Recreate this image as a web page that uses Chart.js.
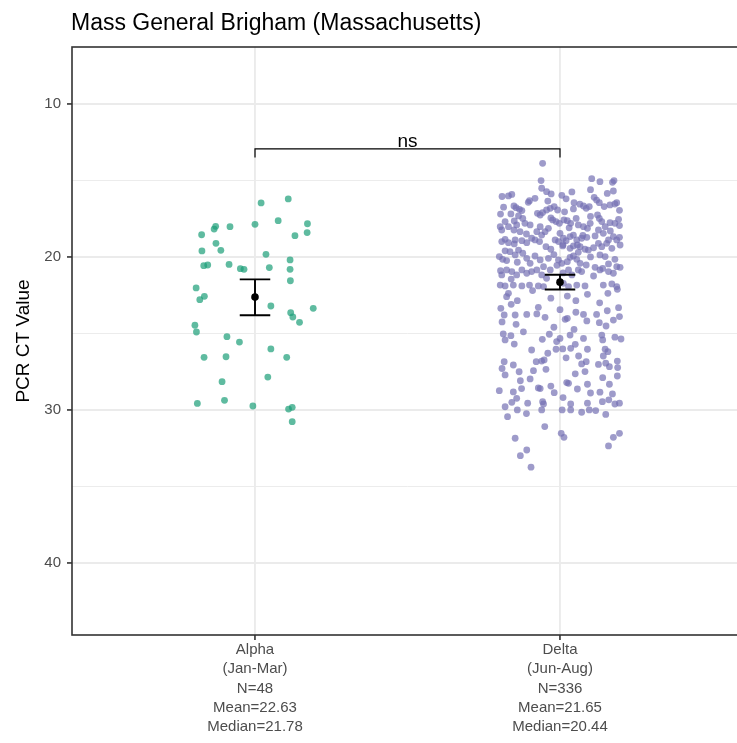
<!DOCTYPE html>
<html>
<head>
<meta charset="utf-8">
<script src="https://cdn.jsdelivr.net/npm/chart.js@4.4.1/dist/chart.umd.min.js"></script>
<style>
  html, body { margin: 0; padding: 0; background: #ffffff; overflow: hidden; }
  #wrap { position: absolute; left: 0; top: 0; width: 750px; height: 743px; }
</style>
</head>
<body>
<div id="wrap"><canvas id="myChart" width="750" height="743"></canvas></div>
<script>
// categories and axis text
const groups = ["Alpha", "Delta"];
const groupLabels = [
  ["Alpha", "(Jan-Mar)", "N=48", "Mean=22.63", "Median=21.78"],
  ["Delta", "(Jun-Aug)", "N=336", "Mean=21.65", "Median=20.44"],
];
const yMajor = [10, 20, 30, 40];
const yMinor = [15, 25, 35];
const chartTitle = "Mass General Brigham (Massachusetts)";
const yTitle = "PCR CT Value";

// summary per group (mean and 95% CI)
const groupMeans = [22.63, 21.65];
const ciLow = [21.47, 21.17];
const ciHigh = [23.82, 22.13];

// significance bracket
const signifLabel = "ns";
const signifLine = 12.93;
const signifTip = 13.5;

// [ct value, jitter]
const alphaPoints = [
  [16.21, 0.109], [16.47, 0.020], [17.87, 0.000], [17.63, 0.076], [17.83, 0.172],
  [18.41, 0.171], [18.61, 0.131], [18.00, -0.129], [18.18, -0.134], [18.02, -0.082],
  [18.55, -0.175], [19.11, -0.128], [19.57, -0.112], [19.61, -0.174], [19.83, 0.036],
  [20.20, 0.115], [20.81, 0.115], [20.57, -0.168], [20.53, -0.155], [20.49, -0.085],
  [20.77, -0.048], [20.81, -0.036], [20.70, 0.047], [21.56, 0.116], [22.03, -0.193],
  [22.58, -0.166], [22.80, -0.181], [23.21, 0.052], [23.36, 0.191], [23.65, 0.117],
  [23.93, 0.124], [24.28, 0.146], [24.47, -0.197], [24.91, -0.192], [25.22, -0.092],
  [25.57, -0.051], [26.02, 0.052], [26.57, 0.104], [26.57, -0.167], [26.53, -0.095],
  [28.16, -0.108], [27.86, 0.042], [29.58, -0.189], [29.38, -0.100], [29.75, -0.007],
  [29.95, 0.110], [29.84, 0.122], [30.78, 0.122],
];

const deltaPoints = [
  [13.88, -0.057], [15.01, -0.062], [14.88, 0.104], [15.08, 0.131], [15.01, 0.177],
  [15.12, 0.172], [15.51, -0.060], [15.73, -0.044], [15.88, -0.029], [15.97, 0.006],
  [15.75, 0.039], [15.69, 0.175], [16.01, -0.169], [15.91, -0.158], [16.32, -0.100],
  [16.17, -0.082], [16.43, -0.104], [16.67, -0.151], [16.78, -0.144], [16.89, -0.133],
  [16.97, -0.125], [17.15, -0.074], [17.26, -0.065], [17.10, -0.057], [16.93, -0.044],
  [16.82, -0.032], [16.71, -0.019], [16.93, -0.008], [16.45, 0.046], [16.86, 0.044],
  [16.67, 0.077], [16.82, 0.086], [16.71, 0.096], [16.10, 0.112], [16.28, 0.120],
  [16.45, 0.129], [16.71, 0.145], [16.60, 0.164], [16.54, 0.180], [16.45, 0.186],
  [17.19, -0.161], [17.32, -0.136], [17.48, -0.122], [17.80, -0.115], [17.91, -0.098],
  [17.58, -0.024], [17.69, -0.013], [17.80, -0.002], [17.58, 0.013], [17.63, 0.024],
  [17.80, 0.035], [17.48, 0.053], [17.91, 0.060], [18.02, 0.077], [18.13, 0.090],
  [17.80, 0.099], [17.26, 0.123], [17.48, 0.129], [17.69, 0.137], [18.02, 0.148],
  [17.76, 0.164], [17.80, 0.180], [17.54, 0.192], [18.02, -0.196], [18.24, -0.191],
  [17.69, -0.180], [18.02, -0.169], [18.24, -0.151], [17.91, -0.142], [18.35, -0.131],
  [18.35, -0.076], [18.02, -0.065], [18.57, -0.060], [18.35, -0.049], [18.13, -0.038],
  [18.46, 0.000], [18.78, 0.011], [18.94, 0.020], [18.67, 0.033], [18.57, 0.044],
  [18.89, 0.055], [18.78, 0.071], [18.72, 0.088], [18.63, 0.115], [18.24, 0.126],
  [18.46, 0.142], [18.89, 0.159], [18.67, 0.175], [18.89, 0.186], [18.72, 0.195],
  [19.00, -0.191], [18.85, -0.180], [19.07, -0.169], [18.89, -0.147], [18.94, -0.125],
  [19.07, -0.109], [18.78, -0.093], [18.89, -0.082], [19.00, -0.067], [19.33, -0.046],
  [19.50, -0.030], [18.89, -0.016], [19.00, -0.005], [19.28, 0.009], [19.44, 0.033],
  [19.28, 0.044], [19.22, 0.057], [19.33, 0.066], [19.50, 0.082], [19.55, 0.093],
  [19.11, 0.126], [19.33, 0.137], [19.11, 0.153], [19.44, 0.170], [19.22, 0.197],
  [19.98, -0.199], [20.16, -0.188], [20.24, -0.175], [19.66, -0.164], [19.87, -0.147],
  [19.55, -0.136], [19.76, -0.122], [20.09, -0.109], [20.42, -0.098], [19.94, -0.082],
  [20.20, -0.065], [20.64, -0.054], [20.09, -0.038], [20.20, -0.005], [20.42, 0.006],
  [20.31, 0.024], [20.03, 0.033], [19.94, 0.044], [20.16, 0.055], [20.42, 0.066],
  [20.53, 0.086], [20.68, 0.115], [19.87, 0.131], [19.98, 0.148], [20.46, 0.159],
  [20.16, 0.180], [20.64, 0.186], [20.68, 0.197], [21.18, -0.191], [20.85, -0.175],
  [20.96, -0.158], [21.18, -0.142], [20.85, -0.125], [21.07, -0.109], [20.96, -0.093],
  [20.85, -0.076], [21.18, -0.060], [21.40, -0.044], [20.85, -0.032], [20.85, 0.028],
  [21.18, 0.039], [20.85, 0.060], [20.96, 0.071], [20.85, 0.131], [20.96, 0.159],
  [21.07, 0.175], [21.84, -0.196], [21.90, -0.180], [21.84, -0.153], [21.90, -0.125],
  [21.84, -0.100], [21.90, -0.071], [21.94, -0.054], [21.73, 0.011], [21.94, 0.028],
  [21.84, 0.055], [21.90, 0.082], [21.84, 0.142], [21.77, 0.170], [21.94, 0.186],
  [22.38, -0.169], [22.60, -0.175], [22.86, -0.140], [23.36, -0.194], [23.80, -0.183],
  [23.80, -0.147], [24.41, -0.144], [23.76, -0.109], [23.73, -0.076], [23.30, -0.071],
  [23.95, -0.049], [22.56, 0.024], [22.86, 0.052], [24.08, 0.017], [24.02, 0.024],
  [23.62, 0.052], [23.76, 0.077], [24.19, 0.088], [23.76, 0.120], [24.30, 0.129],
  [24.52, 0.151], [23.52, 0.155], [24.13, 0.175], [22.38, 0.157], [22.12, 0.188],
  [23.32, 0.192], [25.04, -0.186], [25.43, -0.180], [25.15, -0.161], [26.09, -0.093],
  [25.39, -0.058], [25.06, -0.035], [25.54, -0.011], [25.33, 0.000], [26.04, -0.013],
  [26.02, 0.009], [25.11, 0.033], [24.74, 0.046], [25.98, 0.035], [25.72, 0.050],
  [25.33, 0.077], [26.04, 0.090], [26.48, 0.061], [26.85, 0.086], [27.00, 0.071],
  [25.11, 0.137], [25.43, 0.140], [26.04, 0.148], [26.20, 0.157], [26.48, 0.142],
  [27.03, 0.126], [27.18, 0.162], [26.81, 0.188], [27.24, 0.189], [25.37, 0.200],
  [26.85, -0.183], [27.07, -0.153], [27.51, -0.134], [26.85, -0.078], [26.81, -0.060],
  [26.74, -0.052], [27.35, -0.046], [27.44, -0.087], [27.72, -0.180], [27.98, -0.098],
  [27.50, 0.082], [28.33, 0.090], [28.33, 0.162], [27.79, 0.188], [28.22, 0.022],
  [28.27, 0.028], [28.64, 0.057], [28.85, 0.131], [28.96, 0.172], [28.75, -0.199],
  [28.83, -0.153], [28.61, -0.126], [28.57, -0.071], [28.61, -0.065], [28.88, -0.019],
  [29.51, -0.158], [29.25, -0.142], [29.57, -0.106], [29.47, -0.057], [29.62, -0.054],
  [29.62, 0.035], [29.57, 0.090], [29.47, 0.139], [29.62, 0.180], [29.57, 0.195],
  [30.01, -0.140], [30.01, -0.060], [30.01, 0.007], [30.01, 0.035], [30.16, 0.071],
  [30.01, 0.096], [30.05, 0.117], [30.45, -0.172], [31.54, 0.004], [31.80, 0.013],
  [31.80, 0.175], [31.54, 0.195], [31.86, -0.147], [32.36, 0.159], [32.63, -0.109],
  [33.00, -0.130], [33.75, -0.095],
  // points hidden in the dense cloud, estimated
  [15.60, 0.100], [15.85, 0.155], [16.05, -0.190], [16.20, 0.020], [16.35, -0.040],
  [16.55, 0.065], [16.75, -0.185], [16.95, 0.195], [17.05, 0.015], [17.20, -0.195],
  [17.35, 0.100], [17.45, -0.030], [17.65, -0.150], [17.95, 0.195], [18.10, 0.030],
  [18.30, 0.165], [18.50, -0.110], [18.60, 0.075], [19.15, -0.150], [19.20, 0.010],
  [19.40, 0.110], [19.60, -0.180], [19.70, 0.060], [19.85, -0.020], [20.00, 0.100],
  [20.35, -0.140], [20.55, -0.010], [20.75, 0.140], [20.90, -0.195], [21.05, 0.010],
  [21.25, 0.110], [21.45, -0.160], [22.20, -0.090], [22.45, 0.090], [22.70, -0.030],
  [23.00, 0.130], [23.10, -0.160], [23.45, 0.000], [23.90, 0.195], [24.25, -0.190],
  [24.60, -0.020], [24.90, -0.120], [25.25, 0.180], [25.70, -0.150], [26.30, -0.040],
  [26.60, 0.020], [26.95, 0.150], [27.30, -0.190], [27.65, 0.050], [27.90, 0.140],
  [28.10, -0.130], [28.45, -0.030], [28.90, 0.100], [29.20, 0.010], [29.35, 0.160],
  [29.80, -0.180], [30.25, -0.110], [30.30, 0.150], [31.10, -0.050],
];

const FONT = "'Liberation Sans', Arial, Helvetica, sans-serif";
const GRID = "#EBEBEB";
const DARK = "#333333";
const TEXT = "#4D4D4D";

function toXY(points, group) {
  return points.map(p => ({ x: group + p[1], y: p[0] }));
}

// error bars, bracket, panel border and title
const extras = {
  id: "extras",
  afterDatasetsDraw(chart) {
    const { ctx, chartArea: a, scales: { x, y } } = chart;
    ctx.save();
    ctx.strokeStyle = "#000000";
    ctx.lineWidth = 1.9;
    groups.forEach((g, i) => {
      const cx = x.getPixelForValue(i + 1);
      const half = x.getPixelForValue(i + 1.05) - cx;
      const yl = y.getPixelForValue(ciLow[i]);
      const yh = y.getPixelForValue(ciHigh[i]);
      ctx.beginPath();
      ctx.moveTo(cx, yl); ctx.lineTo(cx, yh);
      ctx.moveTo(cx - half, yl); ctx.lineTo(cx + half, yl);
      ctx.moveTo(cx - half, yh); ctx.lineTo(cx + half, yh);
      ctx.stroke();
    });

    // significance bracket
    const x1 = x.getPixelForValue(1);
    const x2 = x.getPixelForValue(2);
    const yb = y.getPixelForValue(signifLine);
    const yt = y.getPixelForValue(signifTip);
    ctx.lineWidth = 1.2;
    ctx.beginPath();
    ctx.moveTo(x1, yt); ctx.lineTo(x1, yb); ctx.lineTo(x2, yb); ctx.lineTo(x2, yt);
    ctx.stroke();
    ctx.fillStyle = "#000000";
    ctx.font = "19px " + FONT;
    ctx.textAlign = "center";
    ctx.textBaseline = "alphabetic";
    ctx.fillText(signifLabel, (x1 + x2) / 2, yb - 1.5);

    // panel border
    ctx.strokeStyle = DARK;
    ctx.lineWidth = 1.6;
    ctx.strokeRect(a.left, a.top, a.right - a.left, a.bottom - a.top);

    // title
    ctx.font = "23px " + FONT;
    ctx.textAlign = "left";
    ctx.fillText(chartTitle, a.left - 1, 30);
    ctx.restore();
  },
};

var ctx = document.getElementById("myChart");
var myChart = new Chart(ctx, {
  type: "scatter",
  data: {
    datasets: [
      {
        label: "mean",
        data: groupMeans.map((m, i) => ({ x: i + 1, y: m })),
        backgroundColor: "#000000",
        borderWidth: 0,
        pointRadius: 3.8,
        order: 0,
      },
      {
        label: groups[0],
        data: toXY(alphaPoints, 1),
        backgroundColor: "rgba(27, 158, 119, 0.7)",
        borderWidth: 0,
        pointRadius: 3.4,
        order: 1,
      },
      {
        label: groups[1],
        data: toXY(deltaPoints, 2),
        backgroundColor: "rgba(117, 112, 179, 0.7)",
        borderWidth: 0,
        pointRadius: 3.4,
        order: 1,
      },
    ],
  },
  options: {
    responsive: false,
    animation: false,
    devicePixelRatio: 1,
    layout: { padding: { top: 47, right: 7, bottom: 0, left: 0 } },
    plugins: {
      legend: { display: false },
      title: { display: false },
      tooltip: { enabled: false },
    },
    scales: {
      x: {
        type: "linear",
        min: 0.4,
        max: 2.6,
        afterBuildTicks: (s) => { s.ticks = [1, 2].map(v => ({ value: v })); },
        afterFit: (s) => { s.height = 108; },
        ticks: {
          callback: (v) => groupLabels[v - 1],
          color: TEXT,
          font: { family: FONT, size: 15, lineHeight: 1.29 },
          padding: 0,
          maxRotation: 0,
          autoSkip: false,
        },
        grid: { color: GRID, lineWidth: 1.9, tickLength: 5, tickColor: DARK, tickWidth: 1.6 },
        border: { display: false },
      },
      y: {
        type: "linear",
        reverse: true,
        min: 6.27,
        max: 44.73,
        afterBuildTicks: (s) => {
          s.ticks = yMajor.concat(yMinor).sort((a, b) => a - b).map(v => ({ value: v }));
        },
        afterFit: (s) => { s.width = 72; },
        ticks: {
          callback: (v) => (yMajor.includes(v) ? String(v) : ""),
          color: TEXT,
          font: { family: FONT, size: 15 },
          padding: 6,
        },
        grid: {
          color: GRID,
          lineWidth: (c) => (yMajor.includes(c.tick.value) ? 1.9 : 0.95),
          tickLength: 5,
          tickColor: (c) => (yMajor.includes(c.tick.value) ? DARK : "rgba(0,0,0,0)"),
          tickWidth: 1.6,
        },
        border: { display: false },
        title: {
          display: true,
          text: yTitle,
          color: "#000000",
          font: { family: FONT, size: 19 },
          padding: { top: 12, bottom: 0 },
        },
      },
    },
  },
  plugins: [extras],
});
</script>
</body>
</html>
